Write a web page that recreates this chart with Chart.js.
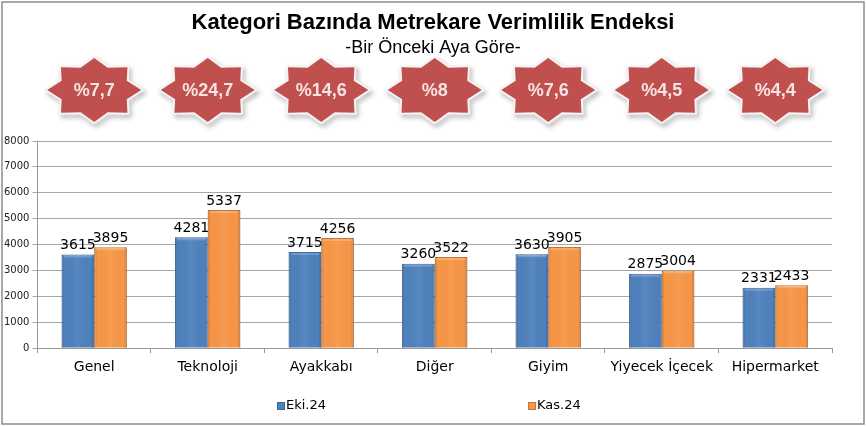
<!DOCTYPE html>
<html>
<head>
<meta charset="utf-8">
<script src="https://cdn.jsdelivr.net/npm/chart.js@4/dist/chart.umd.min.js"></script>
<style>
  body { margin: 0; background: #fff; }
  canvas { display: block; }
</style>
</head>
<body>
<canvas id="verimChart" width="866" height="426"></canvas>
<script>
const categories = ['Genel', 'Teknoloji', 'Ayakkabı', 'Diğer', 'Giyim', 'Yiyecek İçecek', 'Hipermarket'];
const eki24 = [3615, 4281, 3715, 3260, 3630, 2875, 2331];
const kas24 = [3895, 5337, 4256, 3522, 3905, 3004, 2433];
const changePct = [7.7, 24.7, 14.6, 8, 7.6, 4.5, 4.4];
const yTicks = [0, 1000, 2000, 3000, 4000, 5000, 6000, 7000, 8000];

const titleText = 'Kategori Bazında Metrekare Verimlilik Endeksi';
const subtitleText = '-Bir Önceki Aya Göre-';

// background, frame, title and the red stars
const decorPlugin = {
    id: 'decor',
    beforeDraw(chart) {
        const c = chart.ctx;
        c.save();
        c.fillStyle = '#fff';
        c.fillRect(0, 0, chart.width, chart.height);
        c.restore();
    },
    afterDraw(chart) {
        const c = chart.ctx;
        c.save();
        c.strokeStyle = '#8c8c8c';
        c.lineWidth = 1.5;
        c.strokeRect(2, 2, chart.width - 4, chart.height - 4);

        c.fillStyle = '#000';
        c.textAlign = 'center';
        c.textBaseline = 'middle';
        c.font = 'bold 22px "Liberation Sans", Arial, sans-serif';
        c.fillText(titleText, 433, 23);
        c.font = '18px "Liberation Sans", Arial, sans-serif';
        c.fillText(subtitleText, 433, 48);

        const xs = chart.scales.x;
        changePct.forEach(function (v, i) {
            const cx = xs.getPixelForValue(i);
            const cy = 90;
            const rx = 47, ry = 32, inner = 0.75;
            c.save();
            c.beginPath();
            for (let k = 0; k < 16; k++) {
                const a = Math.PI / 8 * k;
                const r = (k % 2 === 0) ? 1 : inner;
                const px = cx + Math.cos(a) * rx * r;
                const py = cy + Math.sin(a) * ry * r;
                if (k === 0) c.moveTo(px, py); else c.lineTo(px, py);
            }
            c.closePath();
            c.shadowColor = 'rgba(0,0,0,0.3)';
            c.shadowBlur = 5;
            c.shadowOffsetX = 2;
            c.shadowOffsetY = 3;
            c.lineWidth = 4;
            c.strokeStyle = '#f4f4f4';
            c.stroke();
            c.shadowColor = 'transparent';
            c.fillStyle = '#c0504d';
            c.fill();
            c.fillStyle = '#f6e4e3';
            c.font = 'bold 18px "Liberation Sans Narrow", "Liberation Sans", Arial, sans-serif';
            c.fillText('%' + String(v).replace('.', ','), cx, cy + 1);
            c.restore();
        });

        // legend
        const items = [[chart.data.datasets[0], 277], [chart.data.datasets[1], 528]];
        c.font = '13px "DejaVu Sans", Verdana, sans-serif';
        c.textAlign = 'left';
        items.forEach(function (it) {
            const ds = it[0], lx = it[1], ly = 406;
            c.fillStyle = ds.borderColor;
            c.fillRect(lx, ly - 4, 8, 8);
            c.fillStyle = ds.backgroundColor;
            c.fillRect(lx + 1, ly - 3, 6, 6);
            c.fillStyle = '#000';
            c.fillText(ds.label, lx + 9, ly);
        });
        c.restore();
    },
    afterDatasetsDraw(chart) {
        const c = chart.ctx;
        c.save();
        chart.data.datasets.forEach(function (ds, di) {
            chart.getDatasetMeta(di).data.forEach(function (bar, i) {
                const x0 = bar.x - bar.width / 2, w = bar.width;
                const h = bar.base - bar.y;
                // shading for the bevelled look
                const g = c.createLinearGradient(x0, 0, x0 + w, 0);
                g.addColorStop(0, 'rgba(0,0,0,0.15)');
                g.addColorStop(0.1, 'rgba(0,0,0,0)');
                g.addColorStop(0.5, 'rgba(255,255,255,0.06)');
                g.addColorStop(0.9, 'rgba(0,0,0,0)');
                g.addColorStop(1, 'rgba(0,0,0,0.18)');
                c.fillStyle = g;
                c.fillRect(x0, bar.y, w, h);
                c.fillStyle = 'rgba(255,255,255,0.2)';
                c.fillRect(x0 + 2, bar.y + 1, w - 4, 2);
                // value label
                c.fillStyle = '#000';
                c.font = '14px "DejaVu Sans", Verdana, sans-serif';
                c.textAlign = 'center';
                c.textBaseline = 'bottom';
                c.fillText(ds.data[i], bar.x, bar.y - 2);
            });
        });
        c.restore();
    }
};

const ctx = document.getElementById('verimChart').getContext('2d');
const verimChart = new Chart(ctx, {
    type: 'bar',
    data: {
        labels: categories,
        datasets: [{
            label: 'Eki.24',
            data: eki24,
            backgroundColor: '#4f81bd',
            borderColor: '#3a659a',
            borderWidth: 1
        }, {
            label: 'Kas.24',
            data: kas24,
            backgroundColor: '#f79646',
            borderColor: '#c9742f',
            borderWidth: 1
        }]
    },
    options: {
        responsive: false,
        animation: false,
        layout: { padding: { top: 141, left: 1, right: 34, bottom: 44 } },
        datasets: {
            bar: { barPercentage: 1, categoryPercentage: 0.575 }
        },
        plugins: {
            legend: { display: false },
            tooltip: { enabled: false }
        },
        scales: {
            x: {
                grid: { drawOnChartArea: false, drawTicks: true, tickLength: 5, color: '#999' },
                border: { color: '#999' },
                ticks: {
                    color: '#000',
                    padding: 6,
                    font: { family: '"DejaVu Sans", Verdana, sans-serif', size: 14 }
                }
            },
            y: {
                min: 0,
                max: 8000,
                afterBuildTicks(axis) {
                    axis.ticks = yTicks.map(function (v) { return { value: v }; });
                },
                grid: { color: '#a6a6a6', tickLength: 5 },
                border: { color: '#999' },
                ticks: {
                    color: '#222',
                    padding: 3,
                    callback: function (v) { return String(v); },
                    font: { family: '"DejaVu Sans", Verdana, sans-serif', size: 10 }
                }
            }
        }
    },
    plugins: [decorPlugin]
});
</script>
</body>
</html>
